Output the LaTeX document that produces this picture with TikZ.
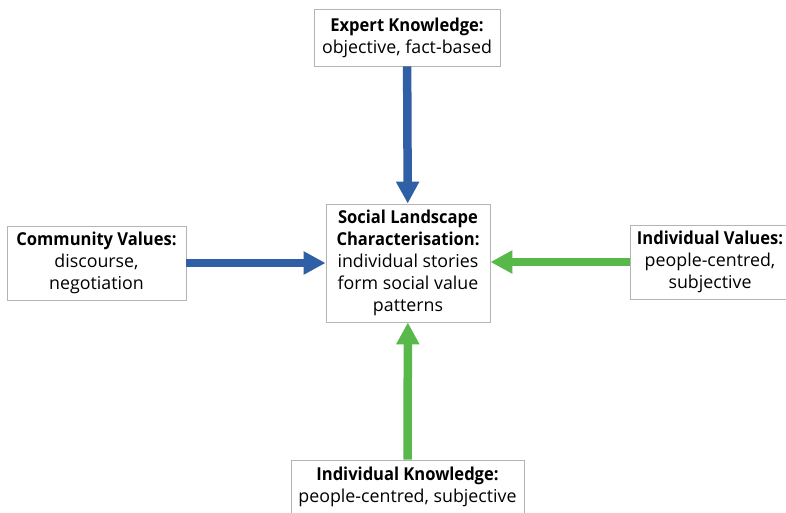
\documentclass[tikz,border=0pt]{standalone}
\usepackage{fontspec}
\setmainfont{Open Sans}[BoldFeatures={FakeStretch=0.93}]
\usepackage{tikz}
\usetikzlibrary{positioning}
\usetikzlibrary{arrows.meta}
\definecolor{arrowblue}{HTML}{2F5FA4}
\definecolor{arrowgreen}{HTML}{58B84A}
\definecolor{boxgray}{HTML}{B4B4B4}

\begin{document}
\begin{tikzpicture}[x=1pt,y=-1pt,
  box/.style={draw=boxgray,line width=0.9pt,fill=white,align=center,inner sep=2pt,
    font=\fontsize{17.8}{22}\selectfont},
  bluearrow/.style={arrowblue,line width=8.5pt,-{Triangle[width=22pt,length=22pt]}},
  greenarrow/.style={arrowgreen,line width=8.5pt,-{Triangle[width=22pt,length=22pt]}}]
 \useasboundingbox (0,0) rectangle (786,512);
 \node[box,minimum width=186pt,minimum height=57pt] (expert) at (407,37.5)
   {\textbf{Expert Knowledge:}\\objective, fact-based};
 \node[box,minimum width=164pt,minimum height=118pt] (landscape) at (408,263)
   {\textbf{Social Landscape}\\\textbf{Characterisation:}\\individual stories\\form social value\\patterns};
 \node[box,minimum width=179pt,minimum height=74pt] (community) at (96.5,263)
   {\textbf{Community Values:}\\discourse,\\negotiation};
 \node[box,minimum width=160pt,minimum height=74pt] (indvalues) at (710,262)
   {\textbf{Individual Values:}\\people-centred,\\subjective};
 \node[box,minimum width=233pt,minimum height=54pt] (indknow) at (407.5,487)
   {\textbf{Individual Knowledge:}\\people-centred, subjective};
 \draw[bluearrow] (expert) -- (landscape);
 \draw[bluearrow] (community) -- (landscape);
 \draw[greenarrow] (indvalues) -- (indvalues -| landscape.east);
 \draw[greenarrow] (indknow) -- (landscape);
\end{tikzpicture}
\end{document}
